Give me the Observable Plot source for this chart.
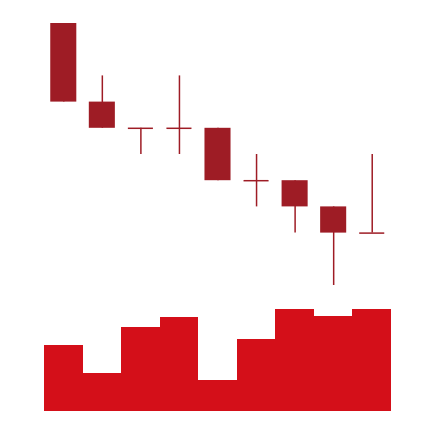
<!DOCTYPE html>
<html>
<head>
<meta charset="utf-8">
<script src="https://cdn.jsdelivr.net/npm/d3@7"></script>
<script src="https://cdn.jsdelivr.net/npm/@observablehq/plot@0.6"></script>
<style>
  html, body { margin: 0; padding: 0; background: #fff; }
  #chart { position: relative; width: 434px; height: 422px; }
  #chart svg { display: block; }
</style>
</head>
<body>
<div id="chart"></div>
<script>
const days   = ["D1", "D2", "D3", "D4", "D5", "D6", "D7", "D8", "D9"];
const open   = [10, 7, 6, 6, 6, 4, 4, 3, 2];
const close  = [7, 6, 6, 6, 4, 4, 3, 2, 2];
const high   = [10, 8, 6, 8, 6, 5, 4, 3, 5];
const low    = [7, 6, 5, 5, 4, 3, 2, 0, 2];
const volume = [66, 38, 84, 94, 31, 72, 102, 95, 102];

const data = days.map((d, i) => ({
  day: d, open: open[i], close: close[i], high: high[i], low: low[i], volume: volume[i]
}));

const candleColor = "#9e1c25";
const volumeColor = "#d40f19";

const xScale = { type: "band", domain: days, padding: 0, round: false, axis: null };

const candles = Plot.plot({
  width: 434,
  height: 300,
  marginLeft: 44,
  marginRight: 43,
  marginTop: 23,
  marginBottom: 15,
  x: xScale,
  y: { domain: [0, 10], axis: null },
  marks: [
    Plot.ruleX(data, { x: "day", y1: "low", y2: "high", stroke: candleColor, strokeWidth: 1.5 }),
    Plot.barY(data.filter(d => d.open !== d.close), {
      x: "day", y1: "open", y2: "close", fill: candleColor, insetLeft: 6.25, insetRight: 6.25
    }),
    Plot.tickY(data.filter(d => d.open === d.close), {
      x: "day", y: "open", stroke: candleColor, strokeWidth: 1.5, insetLeft: 6.75, insetRight: 6.75
    })
  ]
});

const vol = Plot.plot({
  width: 434,
  height: 122,
  marginLeft: 44,
  marginRight: 43,
  marginTop: 9,
  marginBottom: 11,
  x: xScale,
  y: { domain: [0, 102], axis: null },
  marks: [
    Plot.barY(data, { x: "day", y: "volume", fill: volumeColor, inset: 0, shapeRendering: "crispEdges" })
  ]
});

const chart = document.getElementById("chart");
chart.appendChild(candles);
chart.appendChild(vol);
</script>
</body>
</html>
